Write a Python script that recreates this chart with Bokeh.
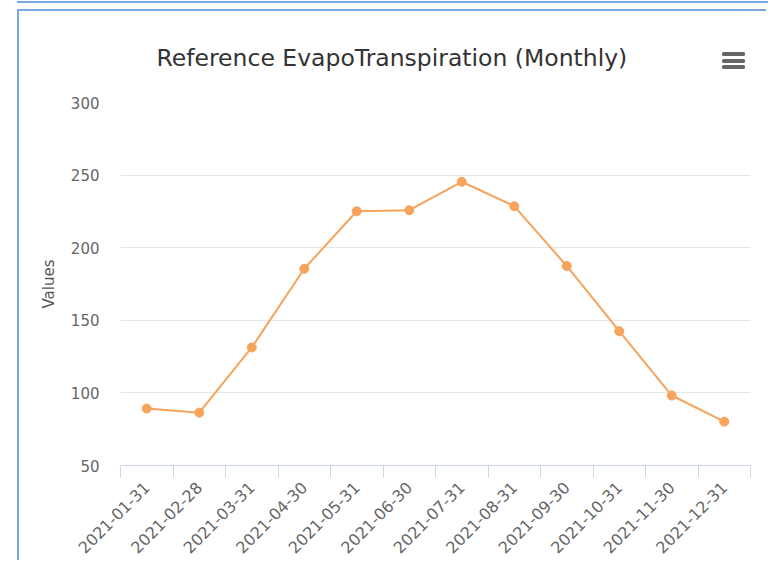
from bokeh.plotting import figure
from bokeh.models import Range1d, FixedTicker, Div
from bokeh.layouts import column
from bokeh.embed import file_html
from bokeh.resources import INLINE

# ---- data ----
dates = ["2021-01-31", "2021-02-28", "2021-03-31", "2021-04-30", "2021-05-31", "2021-06-30",
         "2021-07-31", "2021-08-31", "2021-09-30", "2021-10-31", "2021-11-30", "2021-12-31"]
eto = [89.2, 86.4, 131.3, 185.5, 225.1, 225.8, 245.4, 228.6, 187.4, 142.5, 98.2, 80.2]
y_ticks = [50, 100, 150, 200, 250, 300]
title_text = "Reference EvapoTranspiration (Monthly)"
y_label = "Values"

FONT = "DejaVu Sans"
BORDER = "#7aa7dc"
n = len(dates)
xs = [i + 0.5 for i in range(n)]

p = figure(width=749, height=551, output_backend="svg", toolbar_location=None,
           x_range=Range1d(0, n), y_range=Range1d(y_ticks[0], y_ticks[-1]),
           min_border_left=101, min_border_right=18, min_border_top=91, min_border_bottom=97,
           background_fill_color="white", border_fill_color="white")
p.outline_line_color = None
p.margin = (6, 0, 0, 17)
p.styles = {"border-left": "2px solid " + BORDER, "border-top": "2px solid " + BORDER}

# title
p.title.text = title_text
p.title.align = "left"
p.title.offset = 36
p.title.standoff = 61
p.title.text_font = FONT
p.title.text_font_size = "23.5px"
p.title.text_font_style = "normal"
p.title.text_color = "#333333"

# y axis
ya = p.yaxis[0]
ya.ticker = FixedTicker(ticks=y_ticks)
ya.axis_line_color = None
ya.major_tick_line_color = None
ya.minor_tick_line_color = None
ya.major_label_text_font = FONT
ya.major_label_text_font_size = "15px"
ya.major_label_text_color = "#666666"
ya.major_label_standoff = 15
ya.axis_label = y_label
ya.axis_label_text_font = FONT
ya.axis_label_text_font_size = "15px"
ya.axis_label_text_font_style = "normal"
ya.axis_label_text_color = "#555555"
ya.axis_label_standoff = 10

# x axis
xa = p.xaxis[0]
xa.ticker = FixedTicker(ticks=xs, minor_ticks=list(range(n + 1)))
xa.major_label_overrides = {x: d for x, d in zip(xs, dates)}
xa.major_label_orientation = 0.785398
xa.major_tick_out = 0
xa.major_tick_in = 0
xa.minor_tick_out = 12
xa.minor_tick_in = 0
xa.minor_tick_line_color = "#ccd6eb"
xa.axis_line_color = "#ccd6eb"
xa.major_label_text_font = FONT
xa.major_label_text_font_size = "16px"
xa.major_label_text_color = "#666666"
xa.major_label_standoff = 7

p.xgrid.grid_line_color = None
p.ygrid.ticker = FixedTicker(ticks=y_ticks)
p.ygrid.grid_line_color = "#e6e6e6"

color = "#f7a35c"
p.line(xs, eto, line_color=color, line_width=2)
p.scatter(xs, eto, size=9, fill_color=color, line_color=color)

top_rule = Div(text="", width=751, height=2, margin=(1, 0, 0, 17),
               styles={"background-color": BORDER})

# menu icon (three bars) overlaid on the chart
bar = '<div style="width:23px;height:4px;background:#666666;border-radius:1.5px;margin:0 0 2.5px 0"></div>'
menu = Div(text=bar * 3, width=24, height=20, margin=0,
           styles={"position": "absolute", "left": "722px", "top": "52px", "z-index": "10"})

layout = column(top_rule, p, menu, spacing=0)
open("out.html", "w").write(file_html(layout, INLINE))
